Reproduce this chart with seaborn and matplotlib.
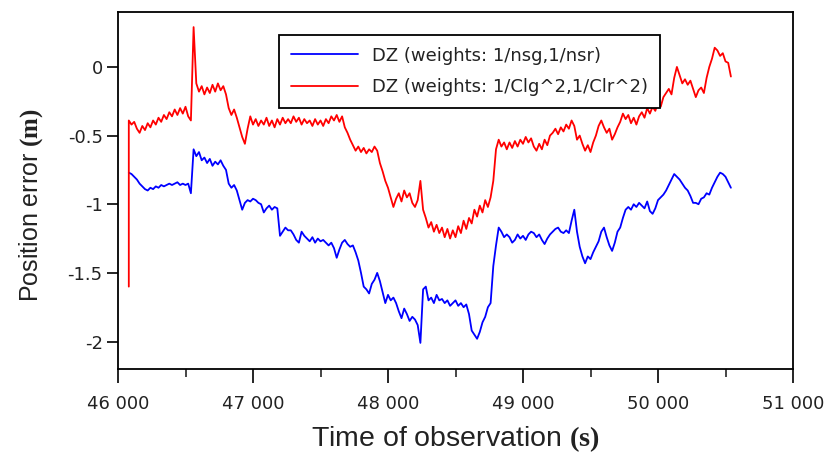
import numpy as np
import pandas as pd
import matplotlib
matplotlib.use("Agg")
import matplotlib.pyplot as plt
import seaborn as sns

# ---------------- data ----------------
t_start, t_end, t_step = 46080, 50540, 20

blue_vals = [
    -0.77, -0.78, -0.80, -0.82, -0.85, -0.87, -0.89, -0.90, -0.88, -0.89,
    -0.87, -0.88, -0.86, -0.87, -0.86, -0.85, -0.86, -0.85, -0.84, -0.86,
    -0.85, -0.86, -0.85, -0.92, -0.60, -0.65, -0.62, -0.68, -0.66, -0.70,
    -0.67, -0.72, -0.69, -0.71, -0.68, -0.72, -0.75, -0.85, -0.88, -0.86,
    -0.90, -0.97, -1.04, -0.99, -0.97, -0.98, -0.96, -0.97, -0.99, -1.00,
    -1.06, -1.03, -1.01, -1.04, -1.02, -1.03, -1.23, -1.20, -1.17, -1.19,
    -1.19, -1.22, -1.26, -1.28, -1.20, -1.23, -1.25, -1.27, -1.24, -1.28,
    -1.25, -1.27, -1.26, -1.28, -1.30, -1.28, -1.32, -1.39, -1.33, -1.28,
    -1.26, -1.29, -1.31, -1.30, -1.35, -1.41, -1.50, -1.60, -1.62, -1.65,
    -1.58, -1.55, -1.50, -1.56, -1.64, -1.72, -1.66, -1.70, -1.68, -1.72,
    -1.78, -1.83, -1.76, -1.80, -1.85, -1.82, -1.84, -1.88, -2.01, -1.62,
    -1.60, -1.70, -1.68, -1.72, -1.66, -1.70, -1.69, -1.72, -1.70, -1.74,
    -1.72, -1.70, -1.74, -1.72, -1.75, -1.73, -1.80, -1.92, -1.95, -1.98,
    -1.93, -1.86, -1.82, -1.75, -1.72, -1.45, -1.30, -1.17, -1.20, -1.24,
    -1.22, -1.24, -1.28, -1.26, -1.22, -1.25, -1.23, -1.26, -1.22, -1.20,
    -1.21, -1.24, -1.22, -1.26, -1.29, -1.25, -1.22, -1.20, -1.18, -1.17,
    -1.20, -1.21, -1.19, -1.21, -1.12, -1.04, -1.20, -1.31, -1.38, -1.43,
    -1.38, -1.40, -1.35, -1.31, -1.27, -1.20, -1.17, -1.24, -1.30, -1.34,
    -1.28, -1.20, -1.17, -1.10, -1.04, -1.02, -1.04, -1.00, -1.02, -0.99,
    -1.01, -1.03, -0.98, -1.05, -1.07, -1.03, -0.97, -0.95, -0.93, -0.90,
    -0.86, -0.82, -0.78, -0.80, -0.82, -0.85, -0.88, -0.90, -0.94, -0.99,
    -0.99, -1.00, -0.96, -0.95, -0.92, -0.93, -0.88, -0.84, -0.80, -0.77,
    -0.78, -0.80, -0.84, -0.88,
]

red_first_t = [46080]
red_first_v = [-1.60]
red_vals = [
    -0.39, -0.42, -0.40, -0.45, -0.48, -0.43, -0.46, -0.41, -0.44, -0.39,
    -0.42, -0.37, -0.40, -0.35, -0.38, -0.33, -0.36, -0.31, -0.35, -0.30,
    -0.34, -0.29, -0.36, -0.39, 0.29, -0.12, -0.18, -0.14, -0.20, -0.15,
    -0.19, -0.13, -0.18, -0.12, -0.17, -0.14, -0.20, -0.30, -0.35, -0.31,
    -0.37, -0.44, -0.51, -0.56, -0.45, -0.36, -0.42, -0.38, -0.43, -0.39,
    -0.42, -0.37, -0.43, -0.39, -0.44, -0.38, -0.42, -0.37, -0.41, -0.38,
    -0.41, -0.36, -0.40, -0.37, -0.42, -0.38, -0.41, -0.39, -0.43, -0.38,
    -0.42, -0.39, -0.43, -0.38, -0.41, -0.36, -0.39, -0.35, -0.40, -0.36,
    -0.44, -0.48, -0.53, -0.57, -0.61, -0.58, -0.62, -0.59, -0.63, -0.60,
    -0.62, -0.58, -0.61, -0.70, -0.76, -0.83, -0.88, -0.95, -1.02, -0.96,
    -0.92, -0.98, -0.90, -0.95, -0.92, -0.99, -1.02, -0.97, -0.83, -1.04,
    -1.10, -1.17, -1.13, -1.20, -1.15, -1.21, -1.17, -1.24, -1.18, -1.25,
    -1.19, -1.24, -1.16, -1.21, -1.12, -1.18, -1.10, -1.14, -1.04, -1.09,
    -1.01, -1.06, -0.97, -1.02, -0.95, -0.83, -0.60, -0.53, -0.58, -0.55,
    -0.60, -0.55, -0.59, -0.54, -0.58, -0.53, -0.56, -0.51, -0.55, -0.52,
    -0.58, -0.61, -0.56, -0.60, -0.53, -0.57, -0.50, -0.48, -0.45, -0.49,
    -0.44, -0.47, -0.42, -0.45, -0.39, -0.43, -0.53, -0.50, -0.56, -0.61,
    -0.57, -0.62, -0.55, -0.50, -0.43, -0.39, -0.44, -0.48, -0.45, -0.53,
    -0.49, -0.44, -0.40, -0.34, -0.38, -0.35, -0.41, -0.37, -0.42, -0.36,
    -0.33, -0.37, -0.30, -0.34, -0.29, -0.32, -0.26, -0.29, -0.22, -0.19,
    -0.16, -0.20, -0.08, 0.00, -0.06, -0.12, -0.09, -0.13, -0.10, -0.16,
    -0.22, -0.17, -0.15, -0.19, -0.08, 0.00, 0.06, 0.14, 0.12, 0.08,
    0.10, 0.04, 0.03, -0.07,
]

series_names = ["DZ (weights: 1/nsg,1/nsr)", "DZ (weights: 1/Clg^2,1/Clr^2)"]
series_colors = ["#0000FF", "#FF0000"]

x_ticks = [46000, 47000, 48000, 49000, 50000, 51000]
x_tick_labels = ["46 000", "47 000", "48 000", "49 000", "50 000", "51 000"]
x_minor = [46500, 47500, 48500, 49500, 50500]
y_ticks = [-2, -1.5, -1, -0.5, 0]
y_tick_labels = ["-2", "-1.5", "-1", "-0.5", "0"]

# ---------------- build table ----------------
t = np.arange(t_start, t_end + 1, t_step)
blue_df = pd.DataFrame({"t": t, "v": blue_vals, "series": series_names[0]})
red_df = pd.DataFrame({"t": np.concatenate([red_first_t, t]),
                       "v": red_first_v + red_vals, "series": series_names[1]})
df = pd.concat([blue_df, red_df], ignore_index=True)

# ---------------- style ----------------
sns.set_style("ticks")
plt.rcParams["font.family"] = ["DejaVu Sans"]
plt.rcParams["axes.unicode_minus"] = False
plt.rcParams["mathtext.fontset"] = "custom"
plt.rcParams["mathtext.bf"] = "Liberation Serif:bold"
plt.rcParams["mathtext.rm"] = "Liberation Serif"

fig = plt.figure(figsize=(8.3, 4.59), dpi=100)
ax = fig.add_axes([118 / 830, 1 - 369 / 459, (793 - 118) / 830, (369 - 12) / 459])

sns.lineplot(data=df, x="t", y="v", hue="series", palette=series_colors,
             estimator=None, sort=False, linewidth=1.3, ax=ax, legend=False)

ax.set_xlim(46000, 51000)
ax.set_ylim(-2.2, 0.4)
ax.set_xticks(x_ticks)
ax.set_xticklabels(x_tick_labels)
ax.set_xticks(x_minor, minor=True)
ax.set_yticks(y_ticks)
ax.set_yticklabels(y_tick_labels)

for s in ax.spines.values():
    s.set_visible(True)
    s.set_linewidth(1.3)
    s.set_color("black")

ax.tick_params(axis="x", which="major", length=10, width=1.2, direction="out",
               labelsize=13, pad=9, colors="black", labelcolor="#222222")
ax.tick_params(axis="x", which="minor", length=6, width=1.2, direction="out")
ax.tick_params(axis="y", which="major", length=8, width=1.2, direction="out",
               labelsize=13, pad=3, colors="black", labelcolor="#222222")
ax.tick_params(top=False, right=False)

lab_family = ["Liberation Sans Narrow", "Liberation Sans"]
ax.set_xlabel(r"Time of observation $\mathbf{(s)}$", fontsize=20.5,
              family=lab_family, color="#222222")
ax.xaxis.set_label_coords(0.5, -0.155)
ax.set_ylabel(r"Position error $\mathbf{(m)}$", fontsize=18,
              family=lab_family, color="#222222")
ax.yaxis.set_label_coords(-0.108, 0.46)

handles = [plt.Line2D([], [], color=c, linewidth=1.3) for c in series_colors]
leg = ax.legend(handles, series_names, loc="upper left",
                bbox_to_anchor=((279 - 118) / 675, (369 - 35) / 357),
                borderaxespad=0, fontsize=13, handlelength=3.7,
                handletextpad=0.8, labelspacing=0.75, borderpad=0.65,
                fancybox=False, framealpha=1, edgecolor="black")
leg.get_frame().set_linewidth(1.3)
for txt in leg.get_texts():
    txt.set_color("#222222")

fig.savefig("out.png", dpi=100)
